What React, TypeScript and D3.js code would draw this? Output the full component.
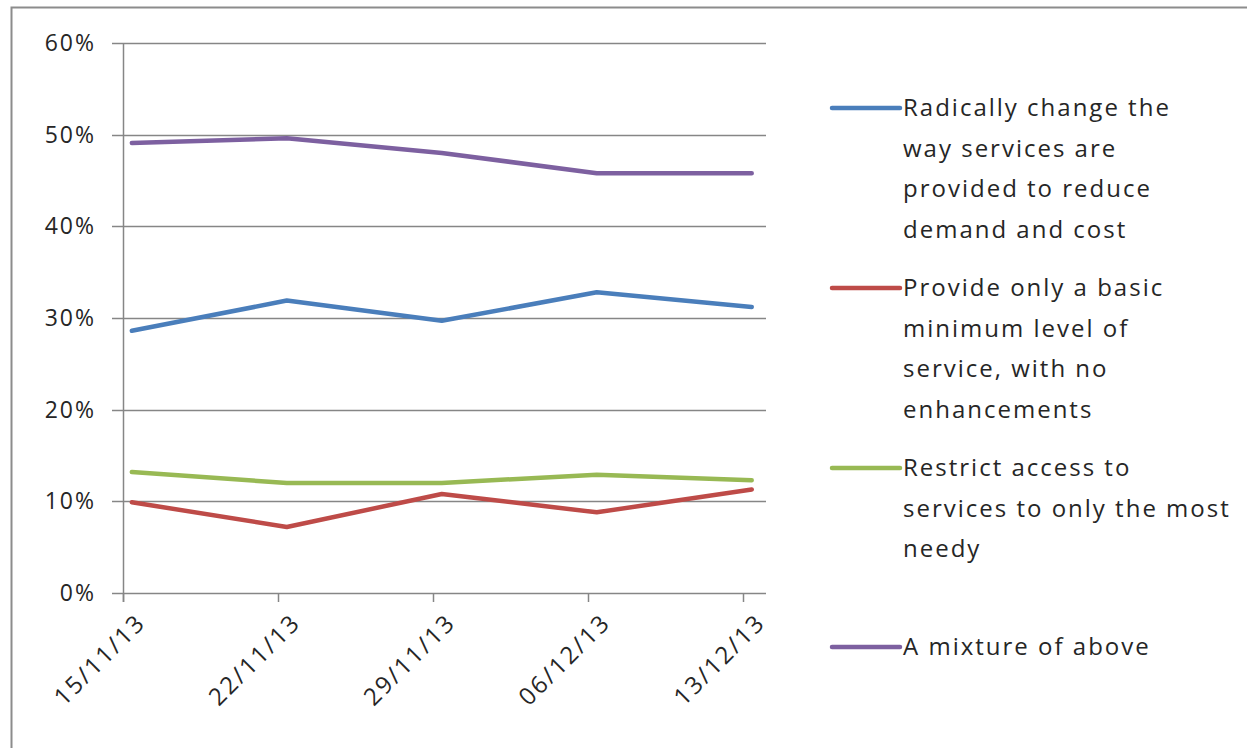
import React, { useEffect, useRef } from 'react';
import * as d3 from 'd3';

// survey dates shown on the x axis
const dates = ['15/11/13', '22/11/13', '29/11/13', '06/12/13', '13/12/13'];
const dayNumbers = [0, 7, 14, 21, 28];

const seriesNames = [
  'Radically change the way services are provided to reduce demand and cost',
  'Provide only a basic minimum level of service, with no enhancements',
  'Restrict access to services to only the most needy',
  'A mixture of above',
];
const legendLines = [
  ['Radically change the', 'way services are', 'provided to reduce', 'demand and cost'],
  ['Provide only a basic', 'minimum level of', 'service, with no', 'enhancements'],
  ['Restrict access to', 'services to only the most', 'needy'],
  ['A mixture of above'],
];
const colors = ['#4A7EBB', '#BE4B48', '#98B954', '#7D60A0'];

const radical = [0.286, 0.319, 0.297, 0.328, 0.312];
const basic = [0.099, 0.072, 0.108, 0.088, 0.113];
const restrict = [0.132, 0.12, 0.12, 0.129, 0.123];
const mixture = [0.491, 0.496, 0.48, 0.458, 0.458];
const seriesValues = [radical, basic, restrict, mixture];

const yTicks = [0, 0.1, 0.2, 0.3, 0.4, 0.5, 0.6];

const App = () => {
  const svgRef = useRef(null);

  useEffect(() => {
    const svg = d3.select(svgRef.current);
    svg.selectAll('*').remove();

    const font = '"Open Sans", sans-serif';
    const textColor = '#262626';
    const axisColor = '#868686';

    // plot area
    const left = 123, right = 765, top = 43, bottom = 593;
    const dataShift = 0.4; // points sit a little after each tick

    const x = d3.scaleLinear().domain([0, 29]).range([left, right]);
    const y = d3.scaleLinear().domain([0, 0.6]).range([bottom, top]);

    // outer frame
    svg.append('rect')
      .attr('x', 11.5).attr('y', 7.5)
      .attr('width', 1260).attr('height', 760)
      .attr('fill', 'none')
      .attr('stroke', '#8c8c8c')
      .attr('stroke-width', 2);

    // gridlines + y ticks
    svg.append('g')
      .selectAll('line')
      .data(yTicks.filter(d => d > 0))
      .join('line')
      .attr('x1', left - 11).attr('x2', right + 1)
      .attr('y1', d => Math.round(y(d)) + 0.5).attr('y2', d => Math.round(y(d)) + 0.5)
      .attr('stroke', axisColor)
      .attr('stroke-width', 1.5);

    // y labels
    svg.append('g')
      .selectAll('text')
      .data(yTicks)
      .join('text')
      .attr('x', 96)
      .attr('y', d => y(d) + 8)
      .attr('text-anchor', 'end')
      .style('font-family', font)
      .style('font-size', '23px')
      .style('letter-spacing', '2px')
      .attr('fill', textColor)
      .text(d => d3.format('.0%')(d));

    // axes lines
    svg.append('line')
      .attr('x1', left + 0.5).attr('x2', left + 0.5)
      .attr('y1', top).attr('y2', bottom + 9)
      .attr('stroke', axisColor).attr('stroke-width', 1.5);
    svg.append('line')
      .attr('x1', left - 11).attr('x2', right + 1)
      .attr('y1', bottom + 0.5).attr('y2', bottom + 0.5)
      .attr('stroke', axisColor).attr('stroke-width', 1.5);

    // x ticks
    svg.append('g')
      .selectAll('line')
      .data(dayNumbers)
      .join('line')
      .attr('x1', d => Math.round(x(d)) + 0.5).attr('x2', d => Math.round(x(d)) + 0.5)
      .attr('y1', bottom).attr('y2', bottom + 9)
      .attr('stroke', axisColor).attr('stroke-width', 1.5);

    // x labels (rotated)
    svg.append('g')
      .selectAll('text')
      .data(dates)
      .join('text')
      .attr('transform', (d, i) => `translate(${x(dayNumbers[i]) + 24},${bottom + 31}) rotate(-45)`)
      .attr('text-anchor', 'end')
      .style('font-family', font)
      .style('font-size', '24px')
      .style('letter-spacing', '2.2px')
      .attr('fill', textColor)
      .text(d => d);

    // series lines
    const line = d3.line()
      .x((d, i) => x(dayNumbers[i] + dataShift))
      .y(d => y(d));

    seriesValues.forEach((vals, k) => {
      svg.append('path')
        .datum(vals)
        .attr('fill', 'none')
        .attr('stroke', colors[k])
        .attr('stroke-width', 4.5)
        .attr('stroke-linejoin', 'round')
        .attr('stroke-linecap', 'round')
        .attr('d', line)
        .append('title').text(seriesNames[k]);
    });

    // legend
    const legendY = [108, 288, 468, 647];
    const legend = svg.append('g');
    legendLines.forEach((lines, k) => {
      legend.append('line')
        .attr('x1', 832).attr('x2', 900)
        .attr('y1', legendY[k]).attr('y2', legendY[k])
        .attr('stroke', colors[k])
        .attr('stroke-width', 4.5)
        .attr('stroke-linecap', 'round');
      lines.forEach((t, j) => {
        legend.append('text')
          .attr('x', 903)
          .attr('y', legendY[k] + 8 + j * 40.5)
          .style('font-family', font)
          .style('font-size', '24px')
          .style('letter-spacing', '2px')
          .attr('fill', textColor)
          .text(t);
      });
    });
  }, []);

  return (
    <svg
      ref={svgRef}
      width={1247}
      height={748}
      style={{ position: 'absolute', left: 0, top: 0, background: '#fff' }}
    />
  );
};

export default App;
